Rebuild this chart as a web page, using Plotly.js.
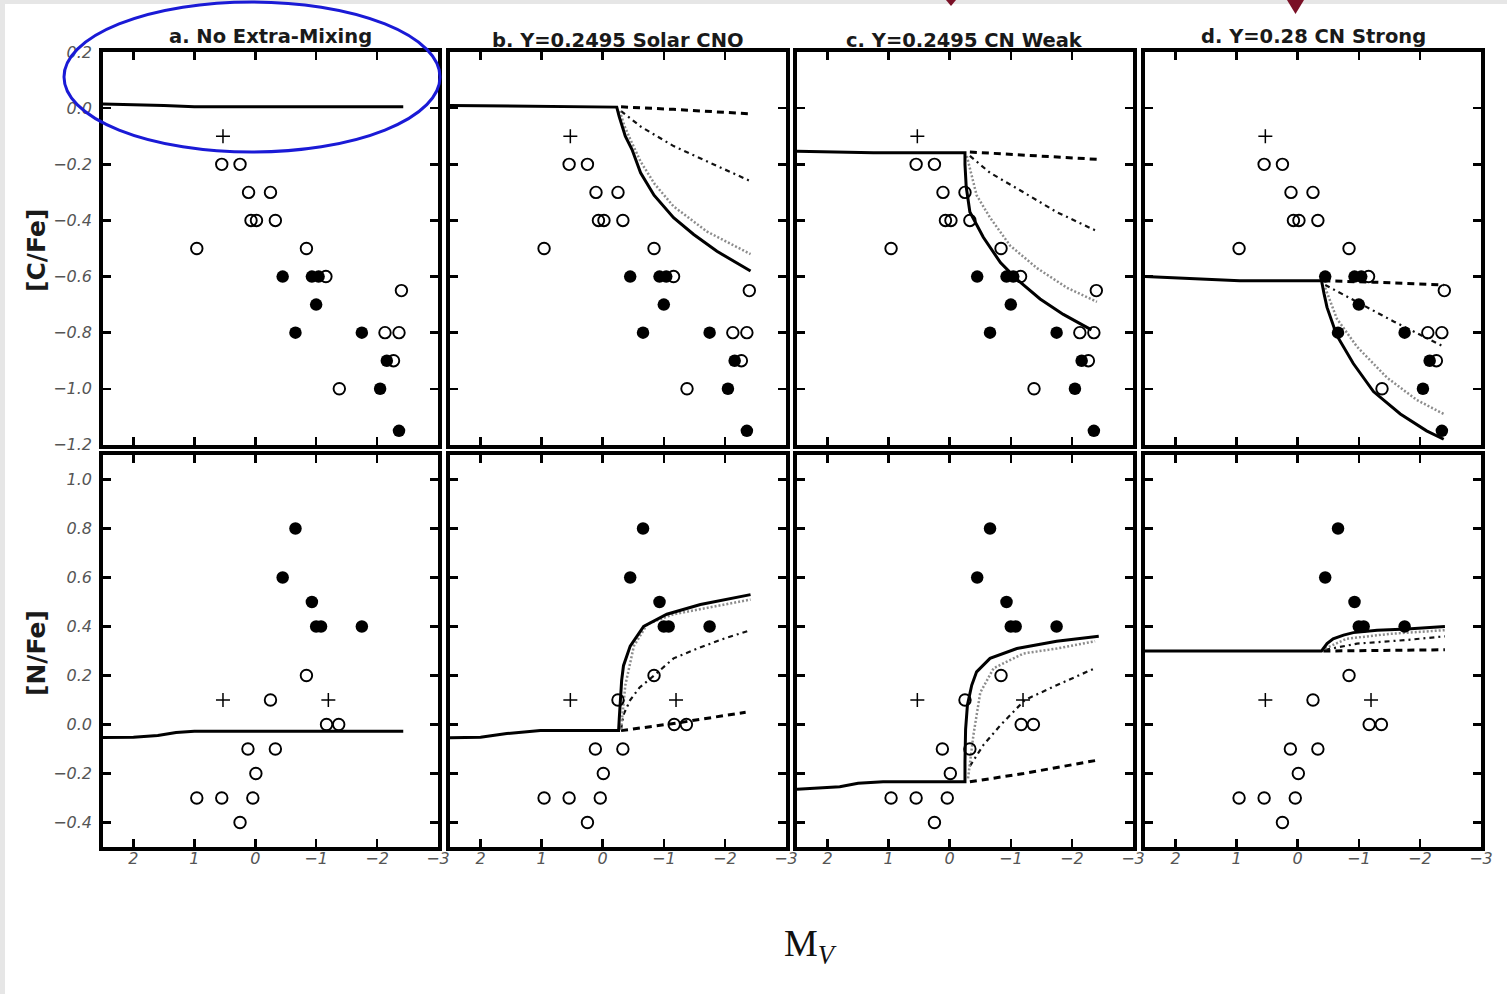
<!DOCTYPE html>
<html>
<head>
<meta charset="utf-8">
<script src="https://cdn.plot.ly/plotly-3.0.1.min.js"></script>
<style>
html,body{margin:0;padding:0;background:#fff;}
#chart{width:1507px;height:994px;}
</style>
</head>
<body>
<div id="chart"></div>
<script>
// ---------- Observed stars: [C/Fe] vs M_V ----------
const cfeOpenMv   = [0.55, 0.25, 0.11, -0.25, 0.07, -0.02, -0.33, 0.96, -0.84, -1.16, -2.13, -2.36, -2.40, -2.27, -1.38];
const cfeOpen     = [-0.2, -0.2, -0.3, -0.3, -0.4, -0.4, -0.4, -0.5, -0.5, -0.6, -0.8, -0.8, -0.65, -0.9, -1.0];
const cfeFilledMv = [-0.45, -0.93, -1.04, -1.0, -0.66, -1.75, -2.16, -2.05, -2.36];
const cfeFilled   = [-0.6, -0.6, -0.6, -0.7, -0.8, -0.8, -0.9, -1.0, -1.15];
const cfePlusMv   = [0.53];
const cfePlus     = [-0.1];

// ---------- Observed stars: [N/Fe] vs M_V ----------
const nfeOpenMv   = [-0.84, -0.25, -1.17, -1.37, 0.12, -0.33, -0.01, 0.96, 0.55, 0.04, 0.25];
const nfeOpen     = [0.2, 0.1, 0.0, 0.0, -0.1, -0.1, -0.2, -0.3, -0.3, -0.3, -0.4];
const nfeFilledMv = [-0.66, -0.45, -0.93, -1.0, -1.08, -1.75];
const nfeFilled   = [0.8, 0.6, 0.5, 0.4, 0.4, 0.4];
const nfePlusMv   = [0.53, -1.2];
const nfePlus     = [0.1, 0.1];

// ---------- Models, panel a ----------
const aC_solid_mv = [2.5, 2.0, 1.5, 1.0, 0.0, -1.0, -2.43];
const aC_solid    = [0.015, 0.013, 0.01, 0.005, 0.005, 0.005, 0.005];
const aN_solid_mv = [2.5, 2.0, 1.6, 1.3, 1.0, 0.0, -1.0, -2.43];
const aN_solid    = [-0.053, -0.052, -0.045, -0.033, -0.028, -0.028, -0.028, -0.028];

// ---------- Models, panel b ----------
const bC_solid_mv   = [2.5, 1.5, 0.5, -0.23, -0.27, -0.32, -0.37, -0.48, -0.62, -0.84, -1.16, -1.49, -1.87, -2.42];
const bC_solid      = [0.01, 0.007, 0.005, 0.004, -0.03, -0.065, -0.10, -0.147, -0.23, -0.31, -0.39, -0.45, -0.51, -0.58];
const bC_dot_mv     = [-0.28, -0.35, -0.45, -0.62, -0.85, -1.16, -1.71, -2.42];
const bC_dot        = [-0.01, -0.06, -0.11, -0.19, -0.27, -0.35, -0.44, -0.52];
const bC_dashdot_mv = [-0.3, -0.62, -1.16, -1.71, -2.42];
const bC_dashdot    = [-0.01, -0.065, -0.135, -0.19, -0.26];
const bC_dash_mv    = [-0.3, -1.16, -2.42];
const bC_dash       = [0.005, -0.004, -0.02];

const bN_solid_mv   = [2.5, 2.0, 1.57, 1.02, 0.5, -0.26, -0.27, -0.29, -0.31, -0.34, -0.45, -0.67, -1.05, -1.6, -2.42];
const bN_solid      = [-0.054, -0.052, -0.037, -0.025, -0.025, -0.025, 0.02, 0.1, 0.18, 0.24, 0.32, 0.40, 0.45, 0.49, 0.53];
const bN_dot_mv     = [-0.30, -0.33, -0.37, -0.51, -0.73, -1.16, -1.71, -2.42];
const bN_dot        = [-0.02, 0.05, 0.16, 0.32, 0.41, 0.45, 0.475, 0.51];
const bN_dashdot_mv = [-0.3, -0.34, -0.45, -0.6, -0.84, -1.16, -1.55, -1.98, -2.42];
const bN_dashdot    = [-0.02, 0.04, 0.10, 0.15, 0.2, 0.27, 0.31, 0.35, 0.385];
const bN_dash_mv    = [-0.3, -1.16, -2.34];
const bN_dash       = [-0.025, 0.004, 0.05];

// ---------- Models, panel c ----------
const cC_solid_mv   = [2.5, 1.25, 0.5, -0.25, -0.25, -0.27, -0.33, -0.55, -0.83, -1.10, -1.48, -1.86, -2.32];
const cC_solid      = [-0.153, -0.159, -0.159, -0.159, -0.2, -0.28, -0.37, -0.46, -0.55, -0.61, -0.68, -0.735, -0.79];
const cC_dot_mv     = [-0.28, -0.44, -0.66, -0.99, -1.43, -1.92, -2.41];
const cC_dot        = [-0.17, -0.31, -0.39, -0.49, -0.57, -0.64, -0.69];
const cC_dashdot_mv = [-0.33, -0.66, -1.21, -1.75, -2.38];
const cC_dashdot    = [-0.17, -0.23, -0.30, -0.37, -0.435];
const cC_dash_mv    = [-0.33, -2.41];
const cC_dash       = [-0.156, -0.182];

const cN_solid_mv   = [2.5, 1.8, 1.5, 1.09, 0.5, -0.25, -0.25, -0.26, -0.29, -0.36, -0.44, -0.66, -1.10, -1.75, -2.44];
const cN_solid      = [-0.264, -0.254, -0.24, -0.234, -0.234, -0.234, -0.15, -0.02, 0.08, 0.16, 0.215, 0.27, 0.31, 0.34, 0.36];
const cN_dot_mv     = [-0.30, -0.35, -0.39, -0.50, -0.72, -1.21, -1.75, -2.38];
const cN_dot        = [-0.22, -0.13, -0.04, 0.13, 0.23, 0.29, 0.31, 0.34];
const cN_dashdot_mv = [-0.33, -0.55, -0.83, -1.23, -1.75, -2.38];
const cN_dashdot    = [-0.17, -0.084, -0.003, 0.1, 0.16, 0.23];
const cN_dash_mv    = [-0.33, -1.21, -2.41];
const cN_dash       = [-0.234, -0.2, -0.146];

// ---------- Models, panel d ----------
const dC_solid_mv   = [2.5, 1.77, 0.95, -0.39, -0.40, -0.43, -0.48, -0.64, -0.91, -1.24, -1.68, -2.11, -2.39];
const dC_solid      = [-0.60, -0.606, -0.615, -0.615, -0.63, -0.66, -0.71, -0.81, -0.91, -1.01, -1.09, -1.15, -1.18];
const dC_dot_mv     = [-0.45, -0.64, -0.97, -1.46, -1.95, -2.39];
const dC_dot        = [-0.64, -0.75, -0.85, -0.96, -1.04, -1.09];
const dC_dashdot_mv = [-0.45, -0.97, -1.57, -2.39];
const dC_dashdot    = [-0.63, -0.69, -0.76, -0.85];
const dC_dash_mv    = [-0.42, -1.24, -2.39];
const dC_dash       = [-0.615, -0.62, -0.63];

const dN_solid_mv   = [2.5, 1.49, 0.5, -0.39, -0.48, -0.58, -0.75, -0.91, -1.3, -1.79, -2.41];
const dN_solid      = [0.30, 0.30, 0.30, 0.30, 0.33, 0.35, 0.365, 0.375, 0.385, 0.39, 0.40];
const dN_dot_mv     = [-0.45, -0.8, -1.51, -2.41];
const dN_dot        = [0.31, 0.35, 0.37, 0.385];
const dN_dashdot_mv = [-0.45, -0.97, -1.79, -2.41];
const dN_dashdot    = [0.305, 0.33, 0.345, 0.36];
const dN_dash_mv    = [-0.42, -2.41];
const dN_dash       = [0.30, 0.305];

// ---------- Text ----------
const panelTitles = ['a. No Extra-Mixing', 'b. Y=0.2495 Solar CNO', 'c. Y=0.2495 CN Weak', 'd. Y=0.28 CN Strong'];
const yTitleTop = '[C/Fe]';
const yTitleBottom = '[N/Fe]';
const xTitle = 'M<sub><i>V</i></sub>';

// ---------- Build ----------
const W = 1507, H = 994;
const px = v => v / W;
const py = v => 1 - v / H;

const styles = {
  solid:   {color: '#000', width: 3, dash: 'solid'},
  dot:     {color: '#8c8c8c', width: 2.5, dash: '2px,2px'},
  dashdot: {color: '#111', width: 2.2, dash: '5px,4px,2px,4px'},
  dash:    {color: '#000', width: 3, dash: '7px,5px'}
};

const traces = [];
function line(ax, mv, v, st) {
  traces.push({x: mv, y: v, xaxis: 'x' + ax, yaxis: 'y' + ax, type: 'scatter', mode: 'lines',
    line: styles[st], hoverinfo: 'skip', showlegend: false});
}
function obs(ax, row) {
  const top = row === 0;
  traces.push({x: top ? cfeOpenMv : nfeOpenMv, y: top ? cfeOpen : nfeOpen, xaxis: 'x' + ax, yaxis: 'y' + ax,
    type: 'scatter', mode: 'markers', showlegend: false,
    marker: {symbol: 'circle-open', size: 11.5, color: '#000', line: {width: 1.9, color: '#000'}}});
  traces.push({x: top ? cfeFilledMv : nfeFilledMv, y: top ? cfeFilled : nfeFilled, xaxis: 'x' + ax, yaxis: 'y' + ax,
    type: 'scatter', mode: 'markers', showlegend: false,
    marker: {symbol: 'circle', size: 12.5, color: '#000'}});
  traces.push({x: top ? cfePlusMv : nfePlusMv, y: top ? cfePlus : nfePlus, xaxis: 'x' + ax, yaxis: 'y' + ax,
    type: 'scatter', mode: 'markers', showlegend: false,
    marker: {symbol: 'cross-thin-open', size: 10, color: '#000', line: {width: 1.5, color: '#000'}}});
}

const ax = i => (i === 1 ? '' : String(i));
line(ax(1), aC_solid_mv, aC_solid, 'solid');
line(ax(5), aN_solid_mv, aN_solid, 'solid');

line(ax(2), bC_dash_mv, bC_dash, 'dash');
line(ax(2), bC_dashdot_mv, bC_dashdot, 'dashdot');
line(ax(2), bC_dot_mv, bC_dot, 'dot');
line(ax(2), bC_solid_mv, bC_solid, 'solid');
line(ax(6), bN_dash_mv, bN_dash, 'dash');
line(ax(6), bN_dashdot_mv, bN_dashdot, 'dashdot');
line(ax(6), bN_dot_mv, bN_dot, 'dot');
line(ax(6), bN_solid_mv, bN_solid, 'solid');

line(ax(3), cC_dash_mv, cC_dash, 'dash');
line(ax(3), cC_dashdot_mv, cC_dashdot, 'dashdot');
line(ax(3), cC_dot_mv, cC_dot, 'dot');
line(ax(3), cC_solid_mv, cC_solid, 'solid');
line(ax(7), cN_dash_mv, cN_dash, 'dash');
line(ax(7), cN_dashdot_mv, cN_dashdot, 'dashdot');
line(ax(7), cN_dot_mv, cN_dot, 'dot');
line(ax(7), cN_solid_mv, cN_solid, 'solid');

line(ax(4), dC_dash_mv, dC_dash, 'dash');
line(ax(4), dC_dashdot_mv, dC_dashdot, 'dashdot');
line(ax(4), dC_dot_mv, dC_dot, 'dot');
line(ax(4), dC_solid_mv, dC_solid, 'solid');
line(ax(8), dN_dash_mv, dN_dash, 'dash');
line(ax(8), dN_dashdot_mv, dN_dashdot, 'dashdot');
line(ax(8), dN_dot_mv, dN_dot, 'dot');
line(ax(8), dN_solid_mv, dN_solid, 'solid');

for (let i = 1; i <= 8; i++) obs(ax(i), i <= 4 ? 0 : 1);

const colX = [[103, 438], [450, 786], [797, 1133], [1145, 1481]];
const rowY = [[52, 445], [455, 847]];
const tickFont = {family: 'DejaVu Sans', size: 16, color: '#555', style: 'italic'};

const layout = {
  width: W, height: H, margin: {l: 0, r: 0, t: 0, b: 0},
  paper_bgcolor: '#fff', plot_bgcolor: '#fff', showlegend: false,
  shapes: [], annotations: []
};

for (let i = 1; i <= 8; i++) {
  const col = (i - 1) % 4, row = i <= 4 ? 0 : 1;
  const xa = 'xaxis' + ax(i), ya = 'yaxis' + ax(i);
  layout[xa] = {
    domain: [px(colX[col][0]), px(colX[col][1])], anchor: 'y' + ax(i),
    range: [2.5, -3.0005], tick0: 0, dtick: 1, tickmode: 'linear',
    showgrid: false, zeroline: false, showline: true, mirror: 'ticks',
    linecolor: '#000', linewidth: 3.8, ticks: 'inside', ticklen: 8, tickwidth: 2.5, tickcolor: '#000',
    showticklabels: row === 1, tickfont: tickFont, ticklabelstandoff: -6
  };
  layout[ya] = {
    domain: [py(rowY[row][1]), py(rowY[row][0])], anchor: 'x' + ax(i),
    range: row === 0 ? [-1.2005, 0.2005] : [-0.5, 1.1], tick0: 0, dtick: 0.2, tickmode: 'linear',
    tickformat: '.1f',
    showgrid: false, zeroline: false, showline: true, mirror: 'ticks',
    linecolor: '#000', linewidth: 3.8, ticks: 'inside', ticklen: 8, tickwidth: 2.5, tickcolor: '#000',
    showticklabels: col === 0, tickfont: tickFont, ticklabelstandoff: 4
  };
}

const titleY = [36, 40, 40, 36];
panelTitles.forEach((t, k) => {
  layout.annotations.push({text: '<b>' + t + '</b>', xref: 'paper', yref: 'paper',
    x: px((colX[k][0] + colX[k][1]) / 2), y: py(titleY[k]), xanchor: 'center', yanchor: 'middle',
    showarrow: false, font: {family: 'DejaVu Sans', size: 19.5, color: '#1a1a1a'}});
});
layout.annotations.push({text: '<b>' + yTitleTop + '</b>', xref: 'paper', yref: 'paper',
  x: px(36), y: py(251), xanchor: 'center', yanchor: 'middle', textangle: -90, showarrow: false,
  font: {family: 'DejaVu Sans', size: 25, color: '#1a1a1a'}});
layout.annotations.push({text: '<b>' + yTitleBottom + '</b>', xref: 'paper', yref: 'paper',
  x: px(36), y: py(653), xanchor: 'center', yanchor: 'middle', textangle: -90, showarrow: false,
  font: {family: 'DejaVu Sans', size: 25, color: '#1a1a1a'}});
layout.annotations.push({text: xTitle, xref: 'paper', yref: 'paper',
  x: px(810), y: py(946), xanchor: 'center', yanchor: 'middle', showarrow: false,
  font: {family: 'Liberation Serif', size: 38, color: '#111'}});

layout.shapes.push({type: 'rect', xref: 'paper', yref: 'paper', x0: 0, x1: px(5), y0: 0, y1: 1,
  fillcolor: '#e6e6e6', line: {width: 0}, layer: 'below'});
layout.shapes.push({type: 'rect', xref: 'paper', yref: 'paper', x0: 0, x1: 1, y0: py(4), y1: 1,
  fillcolor: '#e6e6e6', line: {width: 0}, layer: 'below'});
layout.shapes.push({type: 'circle', xref: 'paper', yref: 'paper',
  x0: px(64), x1: px(440), y0: py(152), y1: py(2), line: {color: '#1a1ad6', width: 3}});
layout.shapes.push({type: 'path', xref: 'paper', yref: 'paper',
  path: `M ${px(946)} ${py(0)} L ${px(956)} ${py(0)} L ${px(951)} ${py(6)} Z`,
  fillcolor: '#7a1026', line: {width: 0}});
layout.shapes.push({type: 'path', xref: 'paper', yref: 'paper',
  path: `M ${px(1287)} ${py(0)} L ${px(1304)} ${py(0)} L ${px(1295.5)} ${py(14)} Z`,
  fillcolor: '#7a1026', line: {width: 0}});

Plotly.newPlot('chart', traces, layout, {displayModeBar: false, staticPlot: true});
</script>
</body>
</html>
